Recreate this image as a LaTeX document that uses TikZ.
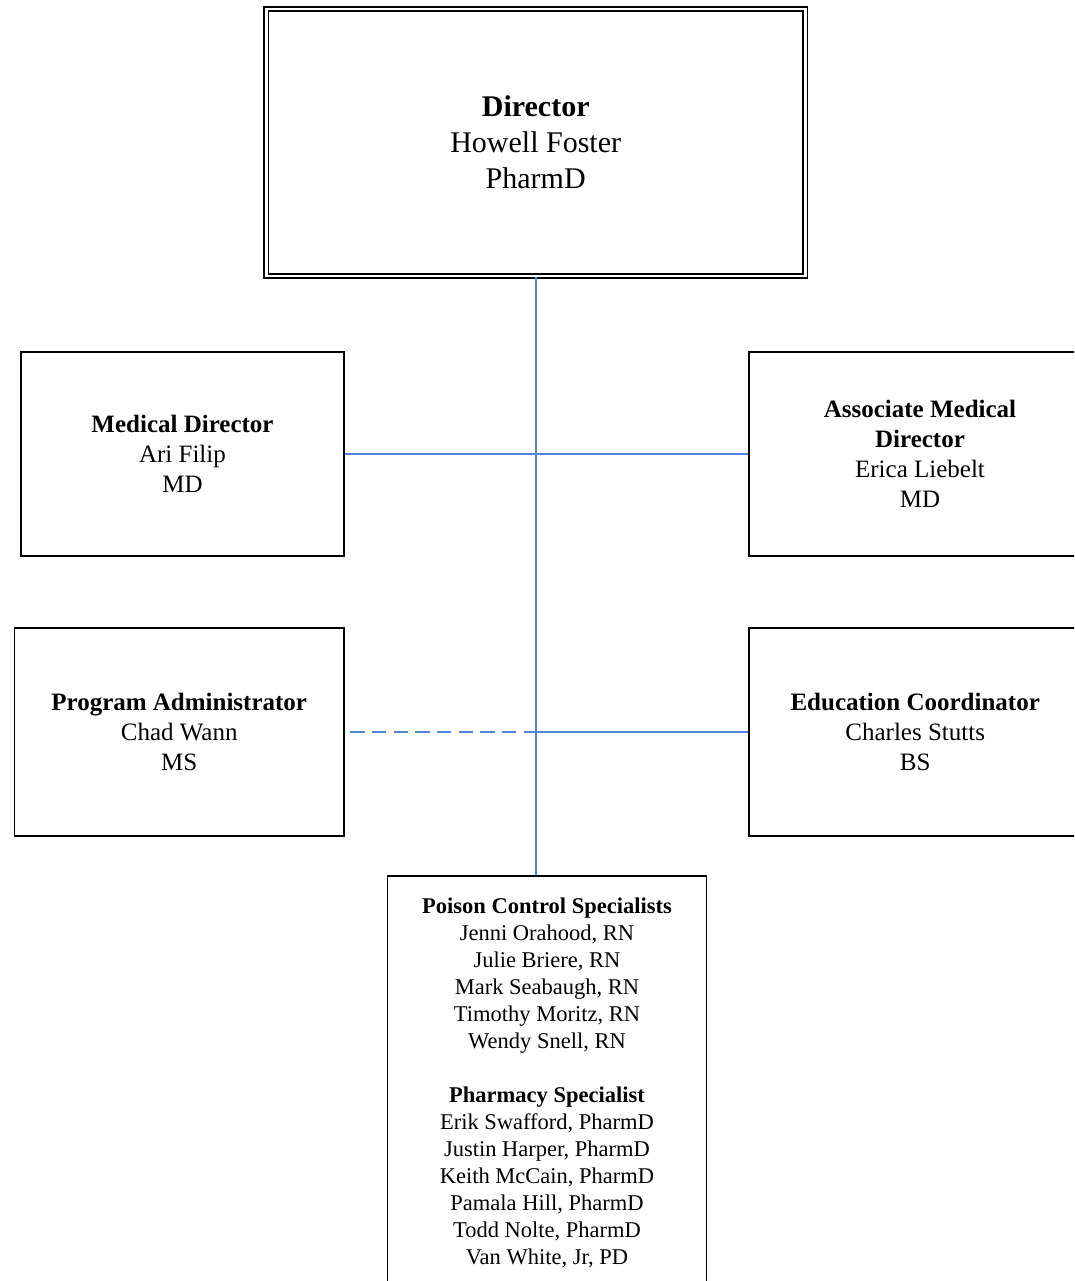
\documentclass[tikz,border=0pt]{standalone}
\usepackage{fontspec}
\setmainfont{Liberation Serif}
\definecolor{linkblue}{RGB}{79,134,214}
\begin{document}
\begin{tikzpicture}[x=1pt,y=-1pt,
  box/.style={draw=black, line width=1.7pt, align=center, inner sep=0pt},
  bigtext/.style={font=\fontsize{30}{36}\selectfont},
  midtext/.style={font=\fontsize{25}{30}\selectfont},
  smalltext/.style={font=\fontsize{22.5}{27}\selectfont},
  link/.style={draw=linkblue, line width=1.7pt},
  dashedlink/.style={link, dash pattern=on 14.3pt off 7.4pt}]
\useasboundingbox (0,0) rectangle (1074,1281);
\clip (0,0) rectangle (1074,1281);
\node[box, bigtext, double, double distance=2.6pt, line width=1.8pt, minimum width=539pt, minimum height=267pt] (dir) at (535.7,142.5) {\textbf{Director}\\Howell Foster\\PharmD};
\node[box, midtext, minimum width=323pt, minimum height=204pt] (med) at (182.5,454) {\textbf{Medical Director}\\Ari Filip\\MD};
\node[box, midtext, minimum width=342pt, minimum height=204pt] (assoc) at (920,454) {\textbf{Associate Medical}\\\textbf{Director}\\Erica Liebelt\\MD};
\node[box, midtext, minimum width=329.7pt, minimum height=208.3pt] (padm) at (179.2,731.9) {\textbf{Program Administrator}\\Chad Wann\\MS};
\node[box, midtext, minimum width=332pt, minimum height=208.3pt] (edu) at (915.2,731.9) {\textbf{Education Coordinator}\\Charles Stutts\\BS};
\node[box, smalltext, minimum width=319pt, minimum height=413pt, anchor=north] (pcs) at (547,875.2) {\textbf{Poison Control Specialists}\\Jenni Orahood, RN\\Julie Briere, RN\\Mark Seabaugh, RN\\Timothy Moritz, RN\\Wendy Snell, RN\\[27pt]\textbf{Pharmacy Specialist}\\Erik Swafford, PharmD\\Justin Harper, PharmD\\Keith McCain, PharmD\\Pamala Hill, PharmD\\Todd Nolte, PharmD\\Van White, Jr, PD};
\coordinate (j2) at (dir.south |- padm.east);
\draw[link] (dir.south) -- (dir.south |- pcs.north);
\draw[link] (med.east) -- (assoc.west);
\draw[dashedlink] ([xshift=5.3pt]padm.east) -- (j2);
\draw[link] (j2) -- (edu.west);
\end{tikzpicture}
\end{document}
